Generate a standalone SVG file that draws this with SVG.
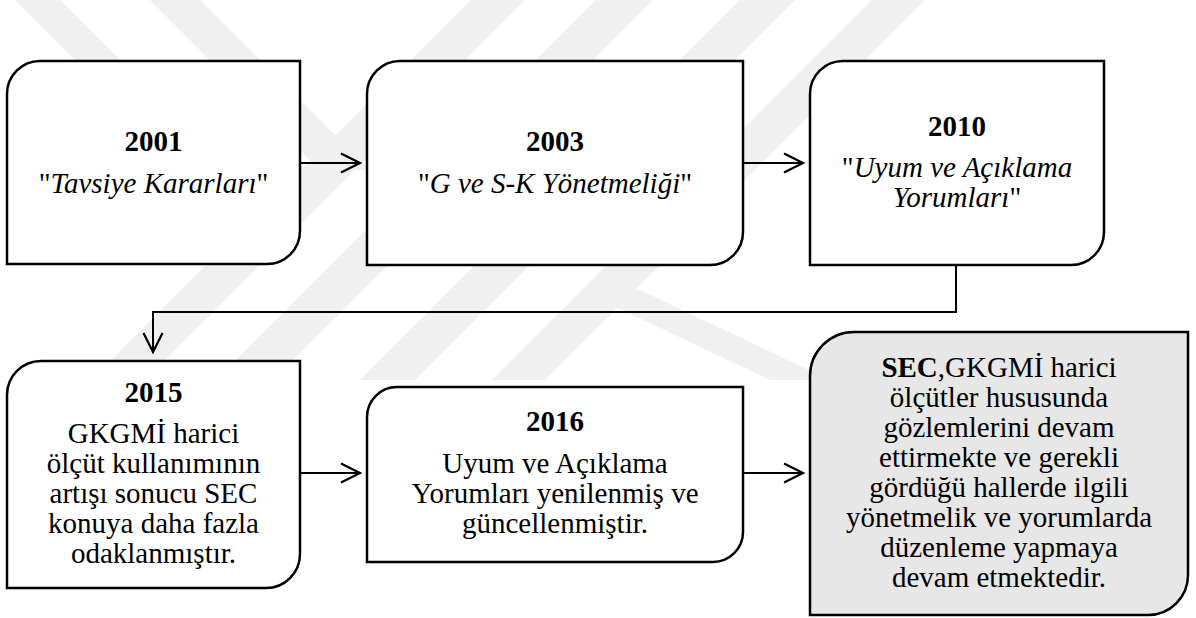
<svg xmlns="http://www.w3.org/2000/svg" width="1196" height="618" viewBox="0 0 1196 618">
  <style>
    .box { fill: #ffffff; stroke: #000000; stroke-width: 2.5; }
    .box.shaded { fill: #e7e7e7; }
    .t { font-family: "Liberation Serif", "Times New Roman", serif; font-size: 29px; fill: #000000; text-anchor: middle; }
    .b { font-weight: bold; }
    .i { font-style: italic; }
    .link { fill: none; stroke: #000000; stroke-width: 2; marker-end: url(#open); }
    .mark { fill: #f0f0f0; }
  </style>
  <defs>
    <marker id="open" viewBox="0 0 24 24" markerWidth="24" markerHeight="24" refX="21" refY="12" orient="auto" markerUnits="userSpaceOnUse">
      <path d="M2,2.5 L21,12 L2,21.5" fill="none" stroke="#000000" stroke-width="2.2"/>
    </marker>
    <clipPath id="markClip">
      <rect x="0" y="0" width="1196" height="380"/>
    </clipPath>
  </defs>

  <rect x="0" y="0" width="1196" height="618" fill="#ffffff"/>

  <!-- faint background emblem stripes -->
  <g id="emblem" clip-path="url(#markClip)">
    <polygon class="mark" points="15,0 60,0 230,170 185,170"/>
    <polygon class="mark" points="150,0 200,0 370,170 320,170"/>
    <polygon class="mark" points="471,0 525,0 145,380 91,380"/>
    <polygon class="mark" points="596,0 653,0 273,380 216,380"/>
    <polygon class="mark" points="740,0 795,0 415,380 360,380"/>
    <polygon class="mark" points="872,0 925,0 545,380 492,380"/>
    <polygon class="mark" points="580,290 640,290 830,380 770,380"/>
  </g>

  <!-- connectors -->
  <g id="connectors">
    <line class="link" x1="300" y1="163" x2="360" y2="163"/>
    <line class="link" x1="743" y1="163" x2="803" y2="163"/>
    <polyline class="link" points="956,265 956,312 153,312 153,352"/>
    <line class="link" x1="300" y1="473" x2="360" y2="473"/>
    <line class="link" x1="743" y1="473" x2="803" y2="473"/>
  </g>

  <g id="node-2001">
    <path class="box" d="M40,61 H300 V231 A33,33 0 0 1 267,264 H7 V94 A33,33 0 0 1 40,61 Z"/>
    <text class="t b" x="153.5" y="151">2001</text>
    <text class="t" x="153.5" y="193">"<tspan class="i">Tavsiye Kararları</tspan>"</text>
  </g>

  <g id="node-2003">
    <path class="box" d="M400,61 H743 V232 A33,33 0 0 1 710,265 H367 V94 A33,33 0 0 1 400,61 Z"/>
    <text class="t b" x="555" y="151">2003</text>
    <text class="t" x="555" y="193">"<tspan class="i">G ve S-K Yönetmeliği</tspan>"</text>
  </g>

  <g id="node-2010">
    <path class="box" d="M843,61 H1104 V232 A33,33 0 0 1 1071,265 H810 V94 A33,33 0 0 1 843,61 Z"/>
    <text class="t b" x="957" y="136">2010</text>
    <text class="t" x="957" y="177">"<tspan class="i">Uyum ve Açıklama</tspan></text>
    <text class="t" x="957" y="207"><tspan class="i">Yorumları</tspan>"</text>
  </g>

  <g id="node-2015">
    <path class="box" d="M41,361 H300 V554 A34,34 0 0 1 266,588 H7 V395 A34,34 0 0 1 41,361 Z"/>
    <text class="t b" x="153.5" y="402">2015</text>
    <text class="t" x="153.5" y="443">GKGMİ harici</text>
    <text class="t" x="153.5" y="473">ölçüt kullanımının</text>
    <text class="t" x="153.5" y="503">artışı sonucu SEC</text>
    <text class="t" x="153.5" y="533">konuya daha fazla</text>
    <text class="t" x="153.5" y="563">odaklanmıştır.</text>
  </g>

  <g id="node-2016">
    <path class="box" d="M397,387 H743 V532 A30,30 0 0 1 713,562 H367 V417 A30,30 0 0 1 397,387 Z"/>
    <text class="t b" x="555" y="431">2016</text>
    <text class="t" x="555" y="473">Uyum ve Açıklama</text>
    <text class="t" x="555" y="503">Yorumları yenilenmiş ve</text>
    <text class="t" x="555" y="533">güncellenmiştir.</text>
  </g>

  <g id="node-sec">
    <path class="box shaded" d="M854,332 H1188 V575 A40,40 0 0 1 1148,615 H810 V376 A44,44 0 0 1 854,332 Z"/>
    <text class="t" x="999" y="377"><tspan class="b">SEC</tspan>,GKGMİ harici</text>
    <text class="t" x="999" y="407">ölçütler hususunda</text>
    <text class="t" x="999" y="437">gözlemlerini devam</text>
    <text class="t" x="999" y="467">ettirmekte ve gerekli</text>
    <text class="t" x="999" y="497">gördüğü hallerde ilgili</text>
    <text class="t" x="999" y="527">yönetmelik ve yorumlarda</text>
    <text class="t" x="999" y="557">düzenleme yapmaya</text>
    <text class="t" x="999" y="587">devam etmektedir.</text>
  </g>
</svg>
